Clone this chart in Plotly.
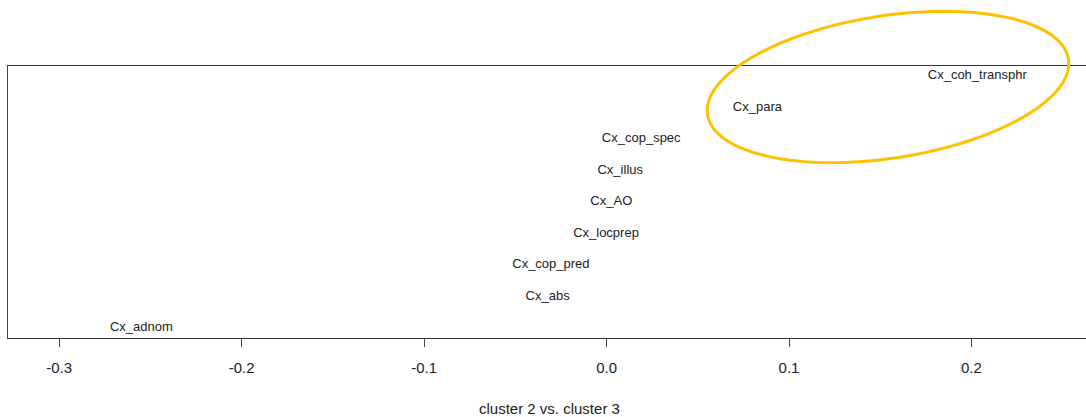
import numpy as np
import plotly.graph_objects as go

# ---- data ----
labels = ["Cx_adnom", "Cx_abs", "Cx_cop_pred", "Cx_locprep", "Cx_AO",
          "Cx_illus", "Cx_cop_spec", "Cx_para", "Cx_coh_transphr"]
values = [-0.255, -0.0323, -0.0305, -0.0003, 0.0026, 0.0075, 0.0190, 0.0827, 0.2032]
rank = [1, 2, 3, 4, 5, 6, 7, 8, 9]
tick_vals = [-0.3, -0.2, -0.1, 0.0, 0.1, 0.2]
tick_text = ["-0.3", "-0.2", "-0.1", "0.0", "0.1", "0.2"]
x_title = "cluster 2 vs. cluster 3"

# ---- layout geometry ----
W, H = 1086, 417
L, R, T, B = 8, 0, 66, 79
pw, ph = W - L - R, H - T - B
FONT = "Arial, Liberation Sans, sans-serif"

fig = go.Figure()
fig.add_trace(go.Scatter(
    x=values, y=rank, mode="text", text=labels,
    textposition="middle center",
    textfont=dict(family=FONT, size=13, color="#222222"),
    hoverinfo="skip", showlegend=False,
))

# highlight ellipse (in pixel space, converted to paper coords)
cx, cy, a, b, ang = 888, 87, 182.6, 71.2, np.deg2rad(8.75)
t = np.linspace(0, 2 * np.pi, 120)
ex = cx + a * np.cos(t) * np.cos(ang) - b * np.sin(t) * np.sin(ang)
ey = cy - (a * np.cos(t) * np.sin(ang) + b * np.sin(t) * np.cos(ang))
xp = (ex - L) / pw
yp = (H - B - ey) / ph
path = "M " + " L ".join(f"{u:.5f},{v:.5f}" for u, v in zip(xp, yp)) + " Z"

fig.update_layout(
    width=W, height=H,
    margin=dict(l=L, r=R, t=T, b=B),
    paper_bgcolor="white", plot_bgcolor="white",
    font=dict(family=FONT, color="#222222"),
    xaxis=dict(
        range=[-0.3281, 0.2628], tickvals=tick_vals, ticktext=tick_text,
        ticks="outside", ticklen=8, tickcolor="#444444", tickwidth=1,
        tickfont=dict(size=15, color="#222222"), ticklabelstandoff=8,
        showline=True, linecolor="#333333", linewidth=1, mirror=True,
        showgrid=False, zeroline=False,
    ),
    yaxis=dict(
        range=[0.68, 9.32], showticklabels=False, ticks="",
        showline=True, linecolor="#444444", linewidth=1, mirror=False,
        showgrid=False, zeroline=False,
    ),
    shapes=[dict(type="path", xref="paper", yref="paper", path=path,
                 line=dict(color="#FFC000", width=3), layer="above")],
    annotations=[dict(text=x_title, xref="paper", yref="paper",
                      x=(549 - L) / pw, y=(H - B - 408) / ph,
                      xanchor="center", yanchor="middle", showarrow=False,
                      font=dict(size=15, color="#222222"))],
)

fig.write_html("out.html", config={"displayModeBar": False},
               post_script="document.body.style.margin='0';document.body.style.overflow='hidden';")
